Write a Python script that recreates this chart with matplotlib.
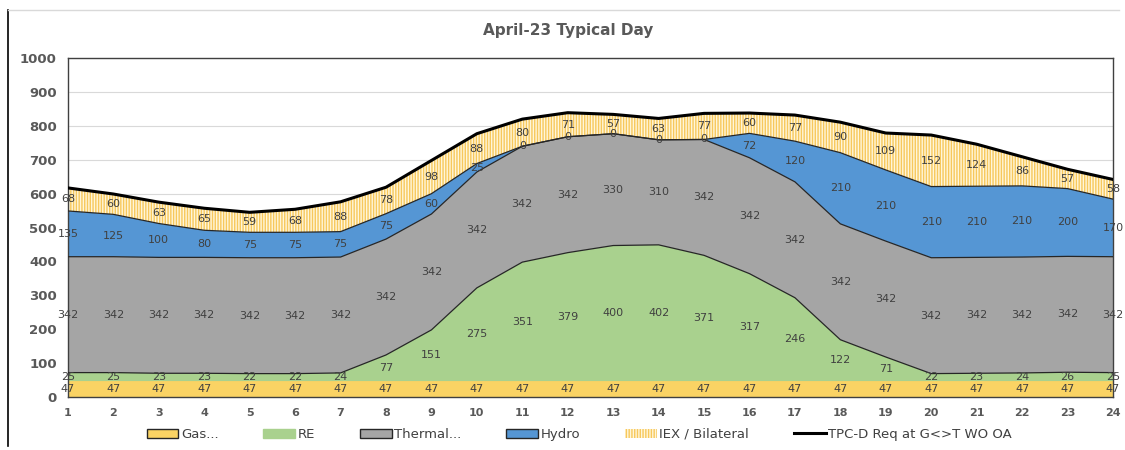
import numpy as np
import matplotlib
matplotlib.use("Agg")
import matplotlib.pyplot as plt
from matplotlib.lines import Line2D
from matplotlib.patches import Patch

hours = list(range(1, 25))
gas = [47] * 24
re = [25, 25, 23, 23, 22, 22, 24, 77, 151, 275, 351, 379, 400, 402, 371, 317, 246, 122, 71, 22, 23, 24, 26, 25]
thermal = [342, 342, 342, 342, 342, 342, 342, 342, 342, 342, 342, 342, 330, 310, 342, 342, 342, 342, 342, 342, 342, 342, 342, 342]
hydro = [135, 125, 100, 80, 75, 75, 75, 75, 60, 25, 0, 0, 0, 0, 0, 72, 120, 210, 210, 210, 210, 210, 200, 170]
iex = [68, 60, 63, 65, 59, 68, 88, 78, 98, 88, 80, 71, 57, 63, 77, 60, 77, 90, 109, 152, 124, 86, 57, 58]
req = [617, 599, 575, 557, 545, 554, 576, 619, 698, 777, 820, 839, 834, 822, 837, 838, 832, 811, 779, 773, 746, 709, 672, 642]

series = [("Gas...", gas, "#FAD364"), ("RE", re, "#A9D18E"),
          ("Thermal...", thermal, "#A5A5A5"), ("Hydro", hydro, "#5596D4"),
          ("IEX / Bilateral", iex, "#FFFFFF")]

plt.rcParams['hatch.linewidth'] = 1.0

fig = plt.figure(figsize=(11.25, 4.5), dpi=100)
ax = fig.add_axes([0.0604, 0.1178, 0.9289, 0.753])

x = np.array(hours)
base = np.zeros(24)
txt = "#404040"
for name, vals, col in series:
    v = np.array(vals, dtype=float)
    top = base + v
    if name == "IEX / Bilateral":
        ax.fill_between(x, base, top, facecolor="#FFF6DA", edgecolor="#F7C85C",
                        hatch="||||||", linewidth=0, zorder=2)
    else:
        ax.fill_between(x, base, top, facecolor=col, linewidth=0, zorder=2)
        if name != "Gas...":
            ax.plot(x, top, color="#262626", lw=0.9, zorder=3)
    for xi, b, vi in zip(x, base, v):
        ax.text(xi, b + vi / 2, str(int(vi)), ha="center", va="center",
                fontsize=8, color=txt, zorder=5)
    base = top

ax.plot(x, req, color="black", lw=2.2, zorder=4)

ax.set_xlim(1, 24)
ax.set_ylim(0, 1000)
ax.set_yticks(range(0, 1001, 100))
ax.set_xticks(hours)
ax.grid(axis="y", color="#D9D9D9", lw=0.8, zorder=0)
ax.set_axisbelow(True)
for s in ax.spines.values():
    s.set_color("#404040")
    s.set_linewidth(1.0)
ax.tick_params(length=0, pad=8)
for lab in ax.get_yticklabels():
    lab.set_fontsize(9.5)
    lab.set_fontweight("bold")
    lab.set_color("#595959")
for lab in ax.get_xticklabels():
    lab.set_fontsize(8)
    lab.set_fontweight("bold")
    lab.set_color("#595959")

fig.text(0.505, 0.933, "April-23 Typical Day", ha="center", va="center",
         fontsize=11, fontweight="bold", color="#595959")

handles = [Patch(facecolor="#FAD364", edgecolor="#262626", label="Gas..."),
           Patch(facecolor="#A9D18E", edgecolor="#A9D18E", label="RE"),
           Patch(facecolor="#A5A5A5", edgecolor="#262626", label="Thermal..."),
           Patch(facecolor="#5596D4", edgecolor="#262626", label="Hydro"),
           Patch(facecolor="#FFF6DA", edgecolor="#F7C85C", hatch="||||||", lw=0, label="IEX / Bilateral"),
           Line2D([0], [0], color="black", lw=2.2, label="TPC-D Req at G<>T WO OA")]
fig.legend(handles=handles, loc="center", bbox_to_anchor=(0.515, 0.035), ncol=6,
           frameon=False, fontsize=9.5, handlelength=2.4,
           columnspacing=3.4, handletextpad=0.2, labelcolor="#404040")

fig.add_artist(Line2D([0.0075, 0.0075], [0.01, 0.978], color="black", lw=1.2))
fig.add_artist(Line2D([0.0075, 0.995], [0.978, 0.978], color="#D9D9D9", lw=1.0))

fig.savefig("out.png", dpi=100)
